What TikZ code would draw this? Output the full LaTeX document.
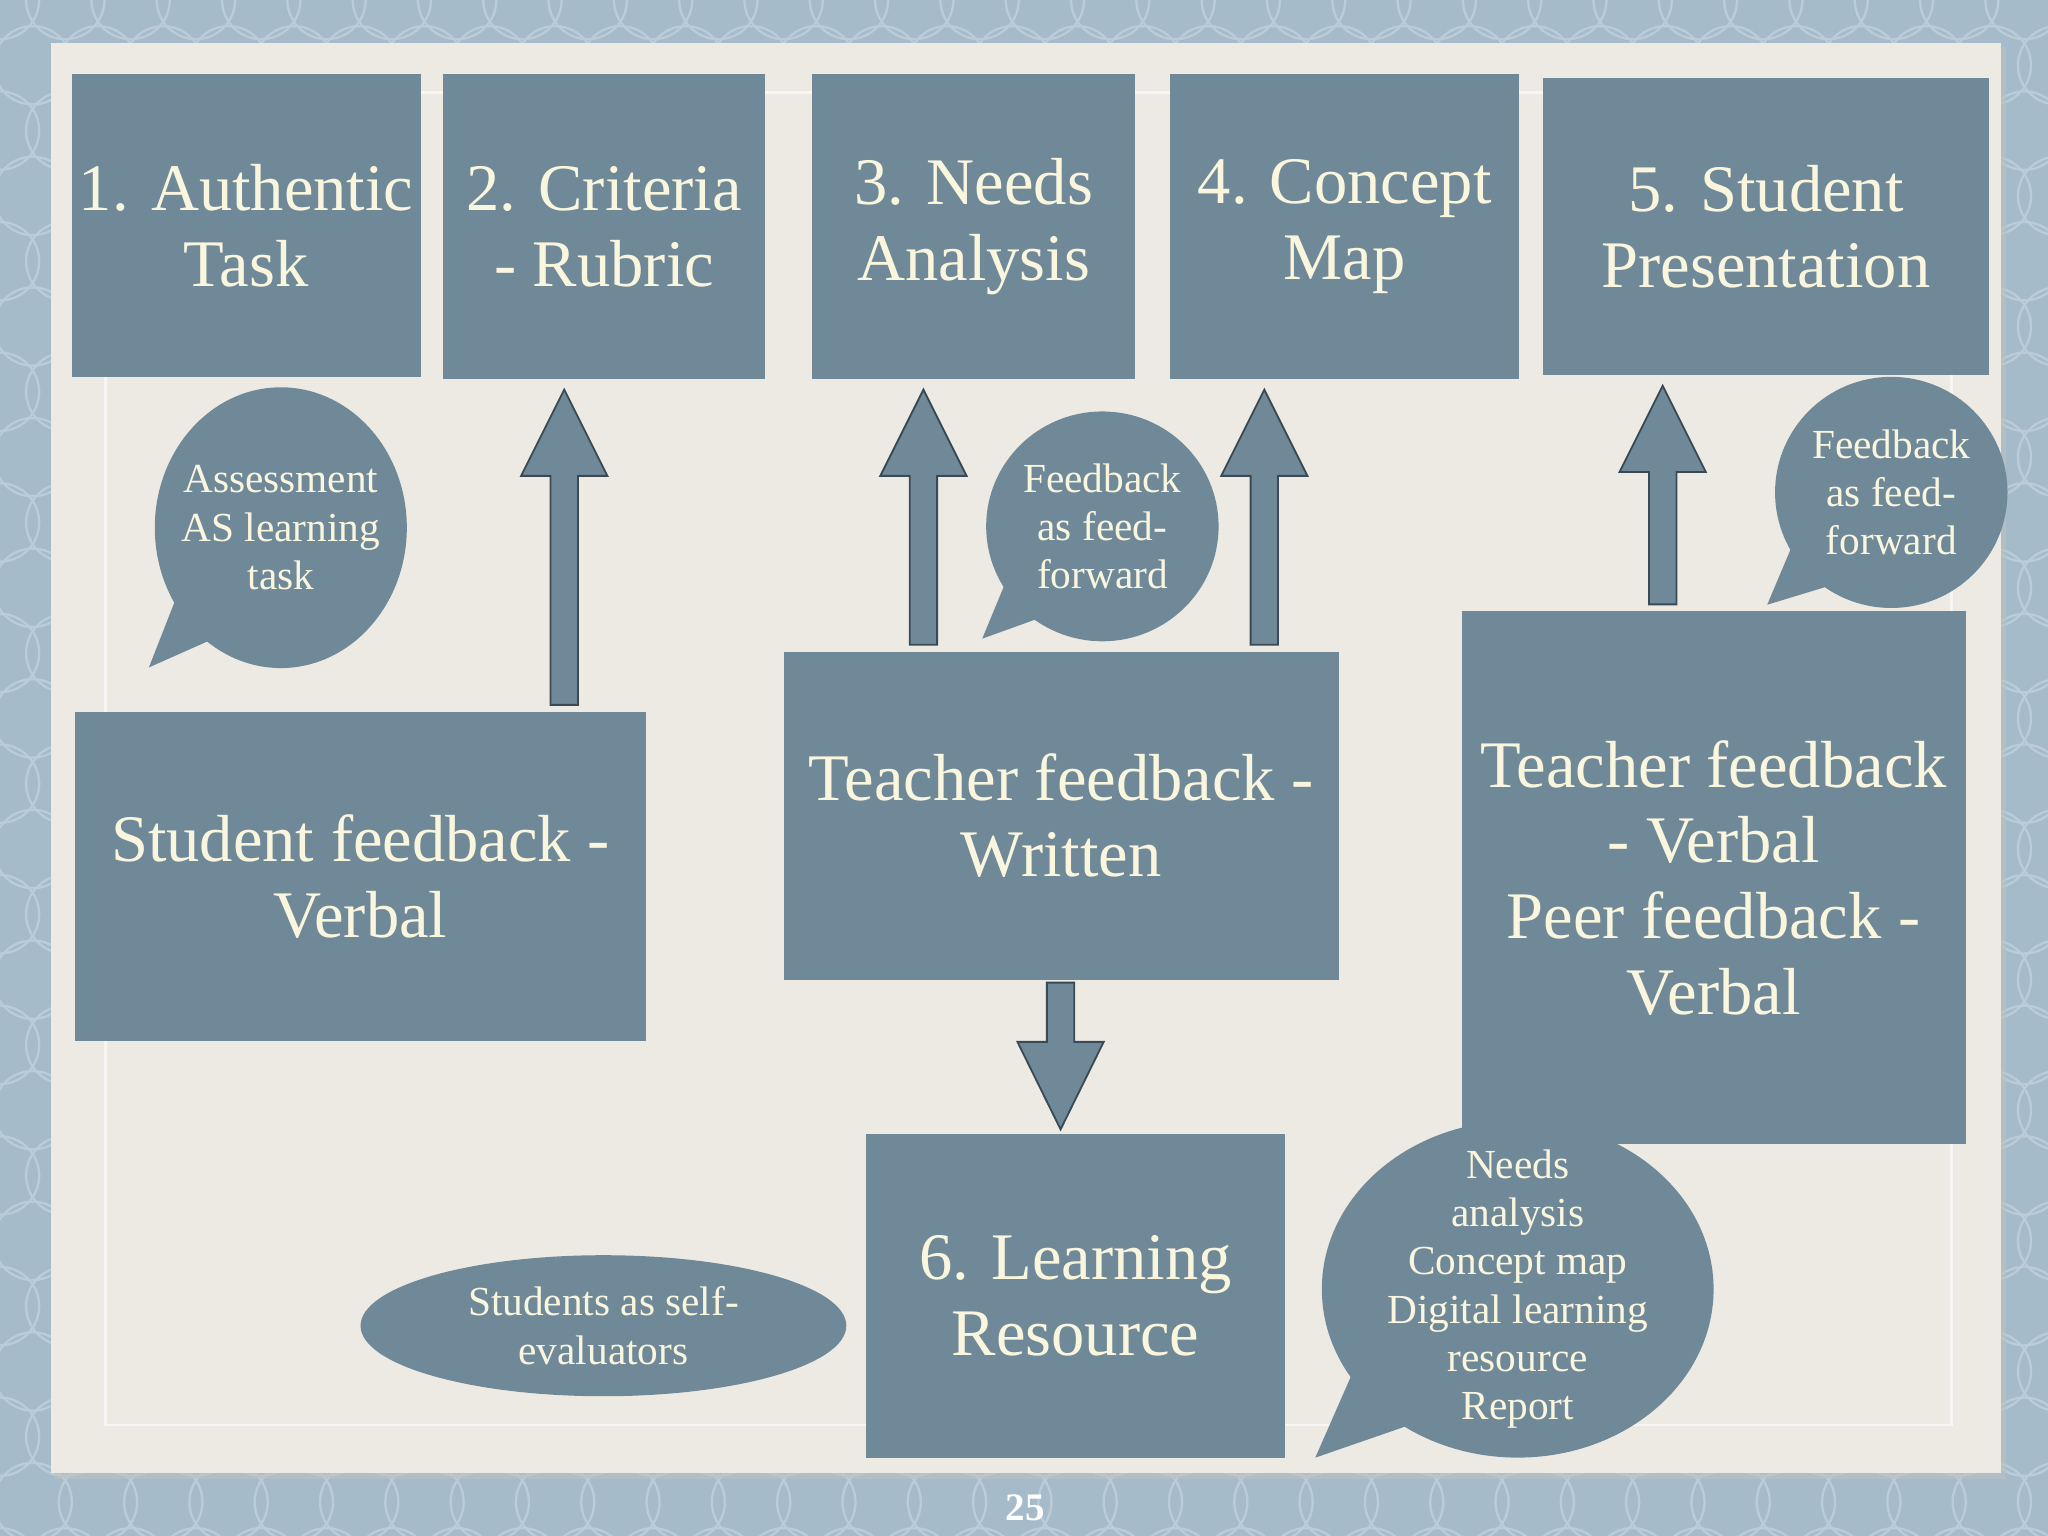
\documentclass[tikz,border=0pt]{standalone}
\usepackage{fontspec}
\setmainfont{Liberation Serif}
\usetikzlibrary{calc,shapes.geometric}

\definecolor{boxblue}{RGB}{112,137,153}
\definecolor{arrowline}{RGB}{58,74,85}
\definecolor{cream}{RGB}{250,246,222}
\definecolor{paper}{RGB}{237,234,228}
\definecolor{backblue}{RGB}{166,187,202}
\definecolor{patternblue}{RGB}{186,204,216}

\begin{document}
\begin{tikzpicture}[x=0.02cm, y=-0.02cm,
  stagebox/.style={fill=boxblue, text=cream, align=center, inner sep=0pt,
    font=\fontsize{29}{33}\selectfont},
  bubble/.style={ellipse, fill=boxblue, text=cream, align=center, inner sep=-0.5cm,
    font=\fontsize{18}{21}\selectfont},
  blockarrow/.style={fill=boxblue, draw=arrowline, line width=0.8pt, line join=miter}]
  \useasboundingbox (0,0) rectangle (1568,1176);

  % Background with pattern
  \fill[backblue] (0,0) rectangle (1568,1176);
  \begin{scope}
    \clip (0,0) rectangle (1568,1176);
    \foreach \i in {0,...,32}
      \foreach \j in {0,...,24}
        \draw[patternblue, line width=1pt] ({\i*50+25*mod(\j,2)}, {\j*50}) circle (0.6cm);
  \end{scope}

  % Paper sheet
  \fill[black!25, opacity=0.5] (42,36) rectangle (1536,1132);
  \fill[paper] (39,33) rectangle (1532,1128);
  \draw[white, opacity=0.6, line width=1.2pt] (81,71) rectangle (1494,1091);
  \draw[black!8, line width=0.5pt] (84,74) rectangle (1491,1088);

  % Top row of stages
  \node[stagebox, minimum width=5.34cm, minimum height=4.64cm] (task) at (188.5,173)
    {1. Authentic\\Task};
  \node[stagebox, minimum width=4.94cm, minimum height=4.66cm] (crit) at (462.5,173.5)
    {2. Criteria\\- Rubric};
  \node[stagebox, minimum width=4.94cm, minimum height=4.66cm] (needs) at (745.5,173.5)
    {3. Needs\\Analysis};
  \node[stagebox, minimum width=5.34cm, minimum height=4.66cm] (cmap) at (1029.5,173.5)
    {4. Concept\\Map};
  \node[stagebox, minimum width=6.84cm, minimum height=4.54cm] (pres) at (1352,173.5)
    {5. Student\\Presentation};

  % Feedback boxes
  \node[stagebox, minimum width=8.76cm, minimum height=5.04cm] (sfb) at (276,671)
    {Student feedback -\\Verbal};
  \node[stagebox, minimum width=8.5cm, minimum height=5.02cm] (tfw) at (812.5,624.5)
    {Teacher feedback -\\Written};
  \node[stagebox, minimum width=7.72cm, minimum height=8.16cm] (tfv) at (1312,672)
    {Teacher feedback\\- Verbal\\Peer feedback -\\Verbal};
  \node[stagebox, minimum width=6.42cm, minimum height=4.96cm] (lres) at (823.5,992)
    {6. Learning\\Resource};

  % Speech bubbles
  \fill[boxblue] (114,511) -- (143,437) -- (186,479) -- cycle;
  \node[bubble, minimum width=3.86cm, minimum height=4.3cm] (aslearn) at (215,404)
    {Assessment\\AS learning\\task};
  \fill[boxblue] (752,489) -- (776,431) -- (813,467) -- cycle;
  \node[bubble, minimum width=3.56cm, minimum height=3.52cm] (ffwd) at (844,403)
    {Feedback\\as feed-\\forward};
  \fill[boxblue] (1353,463) -- (1380,399) -- (1422,442) -- cycle;
  \node[bubble, minimum width=3.56cm, minimum height=3.54cm] (ffwdpres) at (1448,377)
    {Feedback\\as feed-\\forward};
  \fill[boxblue] (1007,1116) -- (1050,1018) -- (1114,1079) -- cycle;
  \node[bubble, minimum width=6.0cm, minimum height=5.16cm] (tasks) at (1162,987)
    {Needs\\analysis\\Concept map\\Digital learning\\resource\\Report};
  \node[bubble, minimum width=7.44cm, minimum height=2.16cm] (selfeval) at (462,1015)
    {Students as self-\\evaluators};

  % Block arrows up
  \foreach \ax/\from/\to in {432/sfb/crit, 707/tfw/needs, 968/tfw/cmap, 1273/tfv/pres} {
    \coordinate (ab) at (\ax,0 |- \from.north);
    \coordinate (at) at (\ax,0 |- \to.south);
    \draw[blockarrow] ($(ab)+(-10.5,-5)$) -- ($(at)+(-10.5,74)$) -- ($(at)+(-33,74)$)
      -- ($(at)+(0,8)$) -- ($(at)+(33,74)$) -- ($(at)+(10.5,74)$)
      -- ($(ab)+(10.5,-5)$) -- cycle;
  }

  % Block arrow down
  \coordinate (db) at (812,0 |- tfw.south);
  \coordinate (dt) at (812,0 |- lres.north);
  \draw[blockarrow] ($(db)+(-10.5,2)$) -- ($(dt)+(-10.5,-70)$) -- ($(dt)+(-33,-70)$)
    -- ($(dt)+(0,-3)$) -- ($(dt)+(33,-70)$) -- ($(dt)+(10.5,-70)$)
    -- ($(db)+(10.5,2)$) -- cycle;

  % Page number
  \node[text=white, font=\fontsize{17}{20}\selectfont\bfseries] (pagenum) at (785,1154) {25};
\end{tikzpicture}
\end{document}
